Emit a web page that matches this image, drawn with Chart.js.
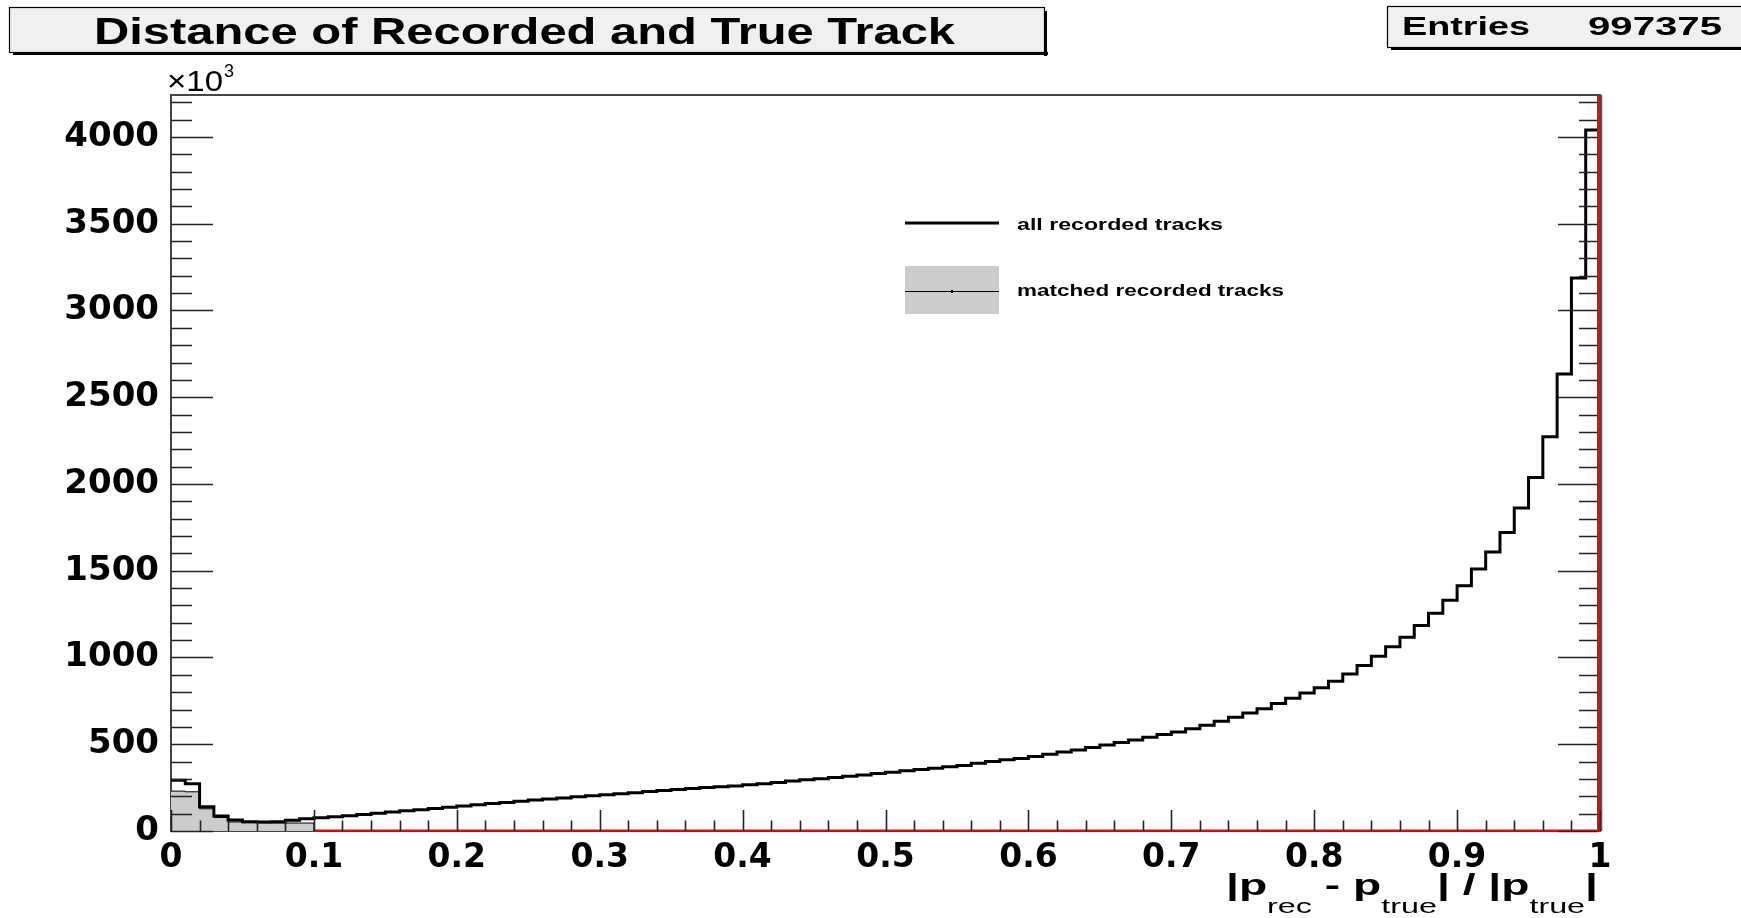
<!DOCTYPE html>
<html><head><meta charset="utf-8">
<script src="https://cdn.jsdelivr.net/npm/chart.js@4.4.0/dist/chart.umd.min.js"></script>
<style>html,body{margin:0;padding:0;background:#fff;overflow:hidden}canvas{display:block}</style>
</head><body>
<canvas id="c" width="1741" height="918"></canvas>
<script>
// ---- data (values in units of 10^3) ----
const binWidth = 0.01;
const allTracks = [
  292, 273, 140, 86, 63, 54, 52, 53, 62, 70,
  76, 82, 88, 95, 102, 109, 116, 123, 130, 137,
  144, 151, 158, 164, 171, 178, 184, 190, 197, 203,
  209, 215, 221, 227, 233, 239, 245, 250, 255, 260,
  266, 272, 280, 288, 295, 301, 308, 315, 323, 331,
  339, 347, 354, 362, 370, 378, 390, 400, 410, 418,
  430, 443, 455, 467, 481, 495, 510, 525, 541, 556,
  570, 590, 610, 633, 656, 680, 705, 735, 765, 795,
  826, 863, 905, 954, 1007, 1062, 1116, 1185, 1255, 1330,
  1413, 1510, 1608, 1720, 1861, 2038, 2273, 2634, 3187, 4040
];
const matchedTracks = [230, 226, 128, 78, 52, 48, 47, 46, 46, 46];
const redEdges = [0.1, 1.0, 1.0];
const redLevels = [0, 0, 5000];
const xTickLabels = ['0','0.1','0.2','0.3','0.4','0.5','0.6','0.7','0.8','0.9','1'];
const yTickValues = [0, 500, 1000, 1500, 2000, 2500, 3000, 3500, 4000];
const yTickStep = 500;
const titleText = 'Distance of Recorded and True Track';
const statsLabel = 'Entries';
const statsValue = '997375';
const legendLabels = ['all recorded tracks', 'matched recorded tracks'];

function histPoints(values, closeToZero) {
  const pts = values.map((v, i) => ({ x: +(i * binWidth).toFixed(4), y: v }));
  const end = +(values.length * binWidth).toFixed(4);
  pts.push({ x: end, y: values[values.length - 1] });
  if (closeToZero) pts.push({ x: end, y: 0 });
  return pts;
}
const yMax = Math.max(...allTracks) * 1.05;
const redPts = redEdges.map((x, i) => ({ x, y: redLevels[i] }));

function fitText(ctx, text, x, baseline, targetW, font, align) {
  ctx.save();
  ctx.font = font;
  ctx.textBaseline = 'alphabetic';
  ctx.textAlign = 'left';
  const w = ctx.measureText(text).width;
  const sx = targetW / w;
  ctx.translate(align === 'right' ? x - targetW : x, baseline);
  ctx.scale(sx, 1);
  ctx.fillStyle = '#000';
  ctx.fillText(text, 0, 0);
  ctx.restore();
}

function shadowBox(ctx, x, y, w, h, fill) {
  ctx.save();
  ctx.fillStyle = '#000';
  ctx.fillRect(x + 4, y + h, w, 3);
  ctx.fillRect(x + w, y + 4, 3, h);
  ctx.fillStyle = fill;
  ctx.fillRect(x, y, w, h);
  ctx.strokeStyle = '#000';
  ctx.lineWidth = 1.2;
  ctx.strokeRect(x + 0.5, y + 0.5, w, h);
  ctx.restore();
}

const decorPlugin = {
  id: 'decor',
  beforeDraw(chart) {
    const ctx = chart.ctx;
    ctx.save();
    ctx.fillStyle = '#fff';
    ctx.fillRect(0, 0, chart.width, chart.height);
    ctx.restore();
  },
  beforeDatasetsDraw(chart) {
    const { ctx, chartArea: a } = chart;
    ctx.save();
    ctx.strokeStyle = '#444';
    ctx.lineWidth = 2;
    ctx.strokeRect(a.left, a.top, a.right - a.left, a.bottom - a.top);
    ctx.restore();
  },
  afterDatasetsDraw(chart) {
    const { ctx, chartArea: a, scales } = chart;
    const xs = scales.x, ys = scales.y;
    ctx.save();
    ctx.strokeStyle = '#222';
    ctx.lineWidth = 1.6;
    ctx.beginPath();
    for (let v = 0; v <= yMax; v += 100) {
      const py = Math.round(ys.getPixelForValue(v)) + 0.5;
      const len = (v % yTickStep === 0) ? 42 : 21;
      ctx.moveTo(a.left, py); ctx.lineTo(a.left + len, py);
      ctx.moveTo(a.right - 3, py); ctx.lineTo(a.right - len, py);
    }
    for (let k = 0; k <= 50; k++) {
      const px = Math.round(xs.getPixelForValue(k * 0.02)) + 0.5;
      const len = (k % 5 === 0) ? 21 : 10.5;
      ctx.moveTo(px, a.bottom); ctx.lineTo(px, a.bottom - len);
    }
    ctx.stroke();
    // thin frame line just outside the red right edge
    ctx.strokeStyle = '#555';
    ctx.lineWidth = 1.5;
    ctx.beginPath();
    ctx.moveTo(a.right + 1.5, a.top); ctx.lineTo(a.right + 1.5, a.bottom);
    ctx.stroke();
    ctx.restore();
  },
  afterDraw(chart) {
    const ctx = chart.ctx;
    // title box
    shadowBox(ctx, 9, 7, 1035, 45, '#f0f0f0');
    fitText(ctx, titleText, 94, 44, 861, 'bold 37px "Liberation Sans", Arial, sans-serif', 'left');
    // stats box
    shadowBox(ctx, 1387, 6, 380, 41, '#f0f0f0');
    fitText(ctx, statsLabel, 1402, 35, 128, 'bold 25px "Liberation Sans", Arial, sans-serif', 'left');
    fitText(ctx, statsValue, 1588, 35, 134, 'bold 25px "Liberation Sans", Arial, sans-serif', 'left');
    // x10^3
    fitText(ctx, '\u00d710', 167, 91, 56, '30px "Liberation Sans", Arial, sans-serif', 'left');
    fitText(ctx, '3', 224, 77, 10, '19px "Liberation Sans", Arial, sans-serif', 'left');
    // legend
    ctx.save();
    ctx.strokeStyle = '#000';
    ctx.lineWidth = 3;
    ctx.beginPath(); ctx.moveTo(905, 223); ctx.lineTo(999, 223); ctx.stroke();
    ctx.fillStyle = '#cccccc';
    ctx.fillRect(905, 266, 94, 48);
    ctx.lineWidth = 1;
    ctx.beginPath(); ctx.moveTo(905, 291.5); ctx.lineTo(999, 291.5); ctx.stroke();
    ctx.fillStyle = '#000';
    ctx.fillRect(951, 290, 2, 3);
    ctx.restore();
    fitText(ctx, legendLabels[0], 1017, 230, 206, 'bold 17px "Liberation Sans", Arial, sans-serif', 'left');
    fitText(ctx, legendLabels[1], 1017, 296, 267, 'bold 17px "Liberation Sans", Arial, sans-serif', 'left');
    // axis title |p_rec - p_true| / |p_true|
    const pieces = [
      ['|p', 'bold 30px "Liberation Sans", Arial, sans-serif', 0],
      ['rec', '21px "Liberation Sans", Arial, sans-serif', 1],
      [' - p', 'bold 30px "Liberation Sans", Arial, sans-serif', 0],
      ['true', '21px "Liberation Sans", Arial, sans-serif', 1],
      ['| / |p', 'bold 30px "Liberation Sans", Arial, sans-serif', 0],
      ['true', '21px "Liberation Sans", Arial, sans-serif', 1],
      ['|', 'bold 30px "Liberation Sans", Arial, sans-serif', 0]
    ];
    ctx.save();
    let total = 0;
    const widths = pieces.map(p => { ctx.font = p[1]; const w = ctx.measureText(p[0]).width; total += w; return w; });
    const left = 1226, right = 1598;
    const sx = (right - left) / total;
    ctx.translate(left, 0);
    ctx.scale(sx, 1);
    ctx.fillStyle = '#000';
    ctx.textBaseline = 'alphabetic';
    let cx = 0;
    pieces.forEach((p, i) => {
      ctx.font = p[1];
      ctx.fillText(p[0], cx, p[2] ? 913 : 895);
      cx += widths[i];
    });
    ctx.restore();
  }
};

new Chart(document.getElementById('c'), {
  type: 'line',
  data: {
    datasets: [
      {
        label: 'red edge',
        data: redPts.slice(1),
        borderColor: '#ff0000',
        borderWidth: 6,
        pointRadius: 0,
        fill: false
      },
      {
        label: 'red base',
        data: redPts.slice(0, 2),
        borderColor: '#ff0000',
        borderWidth: 3,
        pointRadius: 0,
        fill: false
      },
      {
        label: legendLabels[0],
        data: histPoints(allTracks, false),
        stepped: 'before',
        borderColor: '#000',
        borderWidth: 3,
        pointRadius: 0,
        fill: false
      },
      {
        label: legendLabels[1],
        data: histPoints(matchedTracks, true),
        stepped: 'before',
        borderColor: '#000',
        borderWidth: 1,
        backgroundColor: '#cccccc',
        pointRadius: 0,
        fill: 'origin'
      }
    ]
  },
  options: {
    responsive: false,
    maintainAspectRatio: false,
    animation: false,
    devicePixelRatio: 1,
    layout: { padding: { top: 95, right: 141, left: 0, bottom: 0 } },
    plugins: { legend: { display: false }, tooltip: { enabled: false }, title: { display: false } },
    scales: {
      x: {
        type: 'linear', min: 0, max: 1,
        grid: { display: false, drawTicks: false },
        border: { display: false },
        ticks: {
          stepSize: 0.1, padding: 8, maxRotation: 0, autoSkip: false,
          color: '#000',
          font: { family: '"DejaVu Sans", sans-serif', weight: 'bold', size: 33 },
          callback: (v, i) => xTickLabels[i]
        },
        afterFit: s => { s.height = 87; }
      },
      y: {
        type: 'linear', min: 0, max: yMax,
        grid: { display: false, drawTicks: false },
        border: { display: false },
        afterBuildTicks: s => { s.ticks = yTickValues.map(v => ({ value: v })); },
        ticks: {
          padding: 12, autoSkip: false,
          color: '#000',
          font: { family: '"DejaVu Sans", sans-serif', weight: 'bold', size: 34 },
          callback: v => String(v)
        },
        afterFit: s => { s.width = 171; }
      }
    }
  },
  plugins: [decorPlugin]
});
</script>
</body></html>
